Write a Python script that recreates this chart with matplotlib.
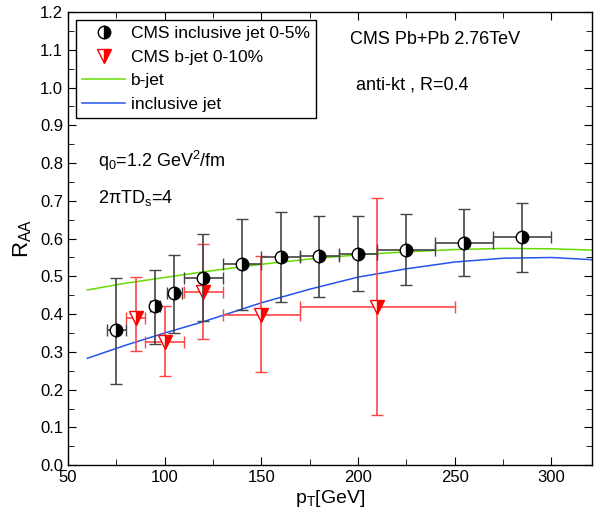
import matplotlib
matplotlib.use("Agg")
import matplotlib.pyplot as plt
from matplotlib.ticker import MultipleLocator
from matplotlib.lines import Line2D
import numpy as np

plt.rcParams['font.family'] = ['Liberation Sans', 'DejaVu Sans']
plt.rcParams['mathtext.fontset'] = 'custom'
plt.rcParams['mathtext.rm'] = 'Liberation Sans'
plt.rcParams['mathtext.it'] = 'Liberation Sans'

# CMS inclusive jet 0-5%
inc_pt = [75, 95, 105, 120, 140, 160, 180, 200, 225, 255, 285]
inc_raa = [0.358, 0.421, 0.455, 0.496, 0.534, 0.552, 0.554, 0.559, 0.570, 0.589, 0.603]
inc_err_lo = [0.142, 0.100, 0.104, 0.113, 0.122, 0.120, 0.108, 0.098, 0.093, 0.088, 0.092]
inc_err_hi = [0.139, 0.097, 0.101, 0.115, 0.118, 0.118, 0.106, 0.101, 0.095, 0.089, 0.092]
inc_xerr = [5, 2.5, 4, 10, 10, 10, 10, 10, 15, 15, 15]

# CMS b-jet 0-10%
b_pt = [85, 100, 120, 150, 210]
b_raa = [0.391, 0.327, 0.459, 0.399, 0.419]
b_err_lo = [0.088, 0.091, 0.126, 0.153, 0.285]
b_err_hi = [0.108, 0.094, 0.128, 0.155, 0.289]
b_xerr_lo = [5, 10, 10, 20, 40]
b_xerr_hi = [5, 10, 10, 20, 40]

# model curves
curve_pt = [60, 80, 100, 120, 150, 175, 200, 225, 250, 275, 300, 325]
bjet_curve = [0.464, 0.482, 0.497, 0.512, 0.532, 0.546, 0.557, 0.565, 0.571, 0.574, 0.573, 0.569]
incl_curve = [0.283, 0.318, 0.350, 0.380, 0.430, 0.466, 0.498, 0.520, 0.538, 0.548, 0.550, 0.543]

fig = plt.figure(figsize=(5.98, 5.25), dpi=100)
ax = fig.add_axes([0.1137, 0.114, 0.8763, 0.863])

ax.plot(curve_pt, bjet_curve, color='#66dd00', lw=1.1, zorder=2)
ax.plot(curve_pt, incl_curve, color='#2255ee', lw=1.1, zorder=2)

inc_style = dict(marker='o', ms=9, mfc='black', mfcalt='white', fillstyle='right',
                 mec='black', mew=1.0)
b_style = dict(marker='v', ms=10, mfc='red', mfcalt='white', fillstyle='right',
               mec='red', mew=1.0)

ax.errorbar(inc_pt, inc_raa, yerr=[inc_err_lo, inc_err_hi], xerr=inc_xerr,
            ls='none', ecolor='#444444', elinewidth=1.2, capsize=4,
            capthick=1.2, zorder=4, **inc_style)
ax.errorbar(b_pt, b_raa, yerr=[b_err_lo, b_err_hi], xerr=[b_xerr_lo, b_xerr_hi],
            ls='none', ecolor='#ff4444', elinewidth=1.2, capsize=4,
            capthick=1.2, zorder=3, **b_style)

ax.set_xlim(50, 321)
ax.set_ylim(0, 1.2)
ax.xaxis.set_major_locator(MultipleLocator(50))
ax.xaxis.set_minor_locator(MultipleLocator(25))
ax.yaxis.set_major_locator(MultipleLocator(0.1))
ax.yaxis.set_minor_locator(MultipleLocator(0.05))
ax.yaxis.set_major_formatter(matplotlib.ticker.FormatStrFormatter('%.1f'))
ax.tick_params(which='both', direction='in', top=True, right=True, labelsize=12)
ax.tick_params(which='major', length=6)
ax.tick_params(which='minor', length=4)
for s in ax.spines.values():
    s.set_linewidth(1.0)

ax.set_xlabel(r'p$_\mathregular{T}$[GeV]', fontsize=14, labelpad=2)
ax.set_ylabel(r'R$_\mathregular{AA}$', fontsize=16, labelpad=4)

handles = [Line2D([], [], ls='none', **inc_style),
           Line2D([], [], ls='none', **b_style),
           Line2D([], [], color='#66dd00', lw=1.1),
           Line2D([], [], color='#2255ee', lw=1.1)]
labels = ['CMS inclusive jet 0-5%', 'CMS b-jet 0-10%', 'b-jet', 'inclusive jet']
leg = ax.legend(handles, labels,
                loc='upper left', bbox_to_anchor=(0.015, 0.982), fontsize=12.5,
                frameon=True, fancybox=False, edgecolor='black', framealpha=1,
                handlelength=2.5, handletextpad=0.35, borderpad=0.35,
                borderaxespad=0, labelspacing=0.48)
leg.get_frame().set_linewidth(1.0)

ax.text(0.538, 0.93, 'CMS Pb+Pb 2.76TeV', transform=ax.transAxes, fontsize=13)
ax.text(0.55, 0.83, 'anti-kt , R=0.4', transform=ax.transAxes, fontsize=13)
ax.text(0.057, 0.657, r'q$_\mathregular{0}$=1.2 GeV$^\mathregular{2}$/fm', transform=ax.transAxes, fontsize=13)
ax.text(0.057, 0.578, r'2$\pi$TD$_\mathregular{s}$=4', transform=ax.transAxes, fontsize=13)

fig.savefig('out.png', dpi=100)
